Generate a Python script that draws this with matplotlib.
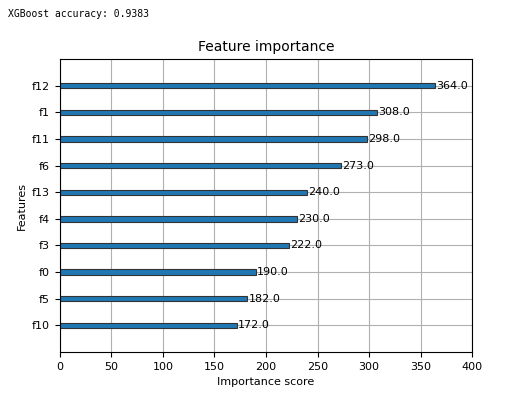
import matplotlib
matplotlib.use("Agg")
import matplotlib.pyplot as plt

features = ["f10", "f5", "f0", "f3", "f4", "f13", "f6", "f11", "f1", "f12"]
scores = [172, 182, 190, 222, 230, 240, 273, 298, 308, 364]

fig = plt.figure(figsize=(5.2, 4.07), dpi=100)
fig.text(0.015, 0.965, "XGBoost accuracy: 0.9383", family="DejaVu Sans Mono", fontsize=7, va="center")
ax = fig.add_axes([0.115, 0.135, 0.793, 0.72])
ylocs = list(range(len(features)))
ax.barh(ylocs, scores, height=0.2, align="center", color="#1f77b4", edgecolor="#333333", linewidth=0.8)
for x, y in zip(scores, ylocs):
    ax.text(x + 1, y, f"{float(x)}", va="center", fontsize=8)
ax.set_yticks(ylocs)
ax.set_yticklabels(features, fontsize=8)
ax.set_xlim(0, 400)
ax.set_ylim(-1, len(features))
ax.tick_params(labelsize=8)
ax.set_title("Feature importance", fontsize=10)
ax.set_xlabel("Importance score", fontsize=8)
ax.set_ylabel("Features", fontsize=8)
ax.grid(True)
ax.set_axisbelow(True)
fig.savefig("out.png", dpi=100)
